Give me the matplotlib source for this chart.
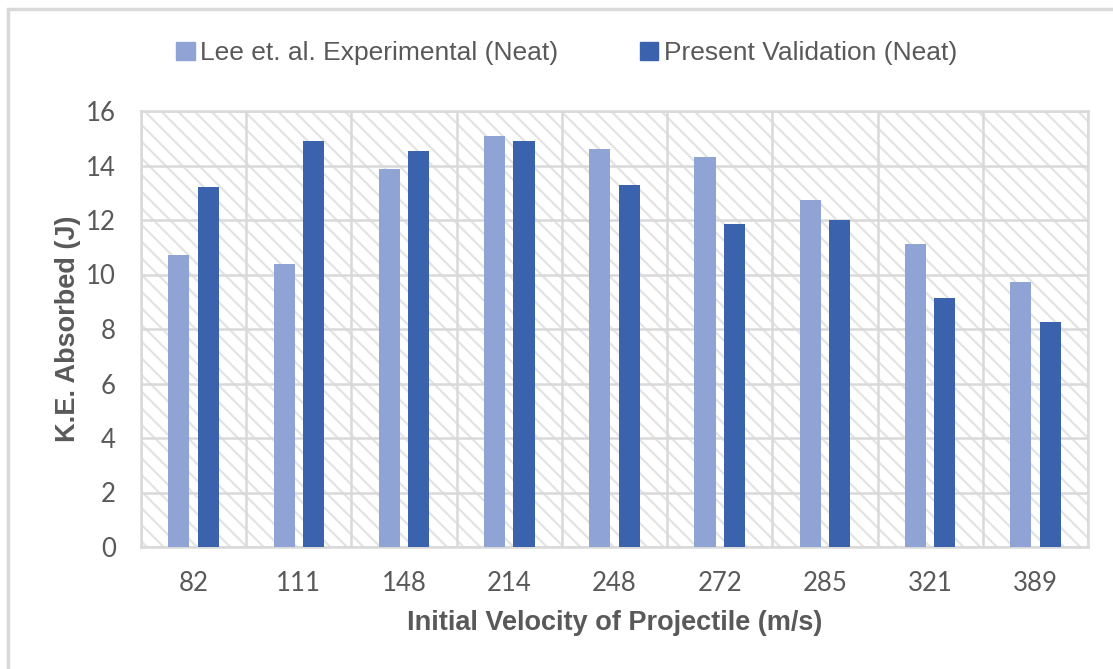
import matplotlib.pyplot as plt
import matplotlib.patches as mpatches
import numpy as np

velocities = ["82", "111", "148", "214", "248", "272", "285", "321", "389"]
lee_exp = [10.7, 10.4, 13.87, 15.08, 14.6, 14.31, 12.72, 11.12, 9.74]
present_val = [13.2, 14.9, 14.53, 14.9, 13.28, 11.87, 12.0, 9.12, 8.25]

c_lee = "#8fa3d4"
c_present = "#3a62ad"
grid_c = "#d9d9d9"
txt_c = "#595959"

plt.rcParams["hatch.linewidth"] = 1.6
plt.rcParams["hatch.color"] = "#e3e3e3"

fig = plt.figure(figsize=(11.13, 6.69), dpi=100)
ax = fig.add_axes([141 / 1113, 1 - 547 / 669, 947 / 1113, 436 / 669])

# outer chart frame
fig.patches.append(mpatches.Rectangle((8 / 1113, -0.1), 1.2, 1 - 9 / 669 + 0.1,
                                      transform=fig.transFigure, fill=False,
                                      edgecolor="#d9d9d9", lw=2.5, zorder=0))

x = np.arange(len(velocities))
w = 0.2
off = 0.14

# hatched plot area background
ax.add_patch(mpatches.Rectangle((-0.5, 0), len(velocities), 16, facecolor="white",
                                edgecolor="#e3e3e3", hatch="\\\\", lw=0, zorder=0))

ax.bar(x - off, lee_exp, w, color=c_lee, zorder=3, label="Lee et. al. Experimental (Neat)")
ax.bar(x + off, present_val, w, color=c_present, zorder=3, label="Present Validation (Neat)")

ax.set_xlim(-0.5, len(velocities) - 0.5)
ax.set_ylim(0, 16)
ax.set_yticks(range(0, 17, 2))
ax.set_xticks(x)
ax.set_xticklabels(velocities)
ax.set_xticks(np.arange(-0.5, len(velocities), 1), minor=True)

ax.grid(True, which="major", axis="y", color=grid_c, lw=1.8, zorder=1)
ax.grid(True, which="minor", axis="x", color=grid_c, lw=1.8, zorder=1)
ax.set_axisbelow(True)
for s in ax.spines.values():
    s.set_color(grid_c)
    s.set_linewidth(1.8)

ax.tick_params(which="both", length=0)
ax.tick_params(axis="y", pad=18, labelsize=18.5, labelcolor=txt_c)
ax.tick_params(axis="x", pad=17, labelsize=18.5, labelcolor=txt_c)
for lab in ax.get_xticklabels() + ax.get_yticklabels():
    lab.set_family(["Lato", "DejaVu Sans"])

ax.set_ylabel("K.E. Absorbed (J)", fontsize=19.5, fontweight="bold", color=txt_c,
              family=["Liberation Sans", "DejaVu Sans"])
ax.yaxis.set_label_coords(-0.063, 0.5)
ax.set_xlabel("Initial Velocity of Projectile (m/s)", fontsize=19.5, fontweight="bold",
              color=txt_c, family=["Liberation Sans", "DejaVu Sans"])
ax.xaxis.set_label_coords(0.5, -0.145)

handles = [mpatches.Patch(color=c_lee), mpatches.Patch(color=c_present)]
leg = fig.legend(handles, ["Lee et. al. Experimental (Neat)", "Present Validation (Neat)"],
                 loc="center", bbox_to_anchor=(0.509, 1 - 53 / 669), ncol=2, frameon=False,
                 handlelength=0.7, handleheight=0.7, handletextpad=0.2, columnspacing=3.1,
                 prop={"family": ["Liberation Sans Narrow", "Liberation Sans"], "size": 19})
for t in leg.get_texts():
    t.set_color(txt_c)

fig.savefig("out.png", dpi=100)
